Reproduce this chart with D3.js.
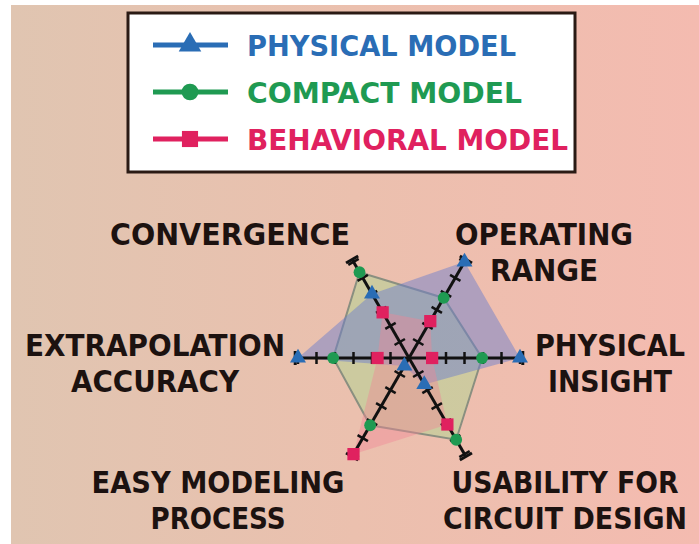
<!DOCTYPE html>
<html>
<head>
<meta charset="utf-8">
<script src="https://cdn.jsdelivr.net/npm/d3@7"></script>
<style>
  html, body { margin: 0; padding: 0; background: #ffffff; }
  svg { display: block; }
</style>
</head>
<body>
<div id="chart"></div>
<script>
// Axes, clockwise from the right (0 deg)
const axisNames = ["PHYSICAL INSIGHT", "USABILITY FOR CIRCUIT DESIGN", "EASY MODELING PROCESS",
                   "EXTRAPOLATION ACCURACY", "CONVERGENCE", "OPERATING RANGE"];
const axisTicks = [1, 2, 3, 4, 5, 6];

// Series values (0..6) in the same axis order
const physicalModel = [6, 1.65, 0.5, 6, 4.0, 6];
const compactModel = [3.95, 5.1, 4.2, 4.1, 5.35, 3.75];
const behavioralModel = [1.25, 4.15, 6, 1.7, 2.85, 2.3];

const seriesNames = ["PHYSICAL MODEL", "COMPACT MODEL", "BEHAVIORAL MODEL"];

const width = 699, height = 544;
const cx = 409, cy = 358;

const svg = d3.select("#chart").append("svg")
  .attr("width", width)
  .attr("height", height);

// background gradient
const defs = svg.append("defs");
const grad = defs.append("linearGradient").attr("id", "bg").attr("x1", "0%").attr("x2", "100%").attr("y1", "0%").attr("y2", "0%");
grad.append("stop").attr("offset", "0%").attr("stop-color", "#e0c5b1");
grad.append("stop").attr("offset", "50%").attr("stop-color", "#ebc0ae");
grad.append("stop").attr("offset", "100%").attr("stop-color", "#f4bbb0");

svg.append("rect").attr("x", 11).attr("y", 5).attr("width", width - 11).attr("height", height - 5)
  .attr("fill", "url(#bg)");

const r = d3.scaleLinear().domain([0, 6]).range([0, 111]);
const angle = d3.scalePoint().domain(axisNames).range([0, 300]);

function pt(name, v) {
  const a = angle(name) * Math.PI / 180;
  return [cx + r(v) * Math.cos(a), cy + r(v) * Math.sin(a)];
}

const series = [
  { name: seriesNames[0], values: physicalModel, color: "#2a6db5", fill: "#6f80cc", opacity: 0.5, shape: d3.symbolTriangle, stroke: "none" },
  { name: seriesNames[1], values: compactModel, color: "#1f9a52", fill: "#a6d88e", opacity: 0.45, shape: d3.symbolCircle, stroke: "#8a8f80" },
  { name: seriesNames[2], values: behavioralModel, color: "#e0215f", fill: "#f08596", opacity: 0.42, shape: d3.symbolSquare, stroke: "none" }
];
// areas: compact underneath, then physical, then behavioral
const areaOrder = [series[1], series[0], series[2]];

const line = d3.line().curve(d3.curveLinearClosed);

// filled areas
svg.append("g").selectAll("path")
  .data(areaOrder)
  .join("path")
  .attr("d", s => line(axisNames.map((n, i) => pt(n, s.values[i]))))
  .attr("fill", s => s.fill)
  .attr("fill-opacity", s => s.opacity)
  .attr("stroke", s => s.stroke)
  .attr("stroke-width", 2);

// axes
const axesG = svg.append("g");
axisNames.forEach(n => {
  const a = angle(n) * Math.PI / 180;
  const [x1, y1] = pt(n, 0);
  const [x2, y2] = pt(n, 6.1);
  axesG.append("line").attr("x1", x1).attr("y1", y1).attr("x2", x2).attr("y2", y2)
    .attr("stroke", "#111").attr("stroke-width", 3);
  const px = -Math.sin(a), py = Math.cos(a);
  axisTicks.forEach(t => {
    const [tx, ty] = pt(n, t);
    axesG.append("line")
      .attr("x1", tx - px * 6).attr("y1", ty - py * 6)
      .attr("x2", tx + px * 6).attr("y2", ty + py * 6)
      .attr("stroke", "#111").attr("stroke-width", 2.5);
  });
  const [ex, ey] = pt(n, 6.15);
  axesG.append("line")
    .attr("x1", ex - px * 7).attr("y1", ey - py * 7)
    .attr("x2", ex + px * 7).attr("y2", ey + py * 7)
    .attr("stroke", "#111").attr("stroke-width", 3);
});

// markers
series.forEach(s => {
  svg.append("g").selectAll("path")
    .data(s.values)
    .join("path")
    .attr("transform", (v, i) => `translate(${pt(axisNames[i], v)})`)
    .attr("d", d3.symbol().type(s.shape).size(s.shape === d3.symbolSquare ? 150 : 110))
    .attr("fill", s.color);
});

// axis labels
const labelFont = "'DejaVu Sans Condensed', 'DejaVu Sans', sans-serif";
const labels = [
  { lines: ["CONVERGENCE"], x: 230, y: 245, w: [240] },
  { lines: ["OPERATING", "RANGE"], x: 544, y: 245, w: [178, 108] },
  { lines: ["EXTRAPOLATION", "ACCURACY"], x: 155, y: 356, w: [260, 168] },
  { lines: ["PHYSICAL", "INSIGHT"], x: 610, y: 356, w: [150, 124] },
  { lines: ["EASY MODELING", "PROCESS"], x: 218, y: 493, w: [253, 135] },
  { lines: ["USABILITY FOR", "CIRCUIT DESIGN"], x: 565, y: 493, w: [227, 244] }
];
labels.forEach(l => {
  l.lines.forEach((t, i) => {
    svg.append("text")
      .attr("x", l.x).attr("y", l.y + i * 36)
      .attr("text-anchor", "middle")
      .attr("font-family", labelFont)
      .attr("font-weight", "bold")
      .attr("font-size", 31)
      .attr("fill", "#1c1210")
      .attr("textLength", l.w[i])
      .attr("lengthAdjust", "spacingAndGlyphs")
      .text(t);
  });
});

// legend
const legend = svg.append("g");
legend.append("rect").attr("x", 128).attr("y", 13).attr("width", 447).attr("height", 159)
  .attr("fill", "#ffffff").attr("stroke", "#2a1a14").attr("stroke-width", 3);
const legendW = [269, 275, 321];
series.forEach((s, i) => {
  const y = 45 + i * 47;
  legend.append("line").attr("x1", 153).attr("x2", 228).attr("y1", y).attr("y2", y)
    .attr("stroke", s.color).attr("stroke-width", 5);
  legend.append("path")
    .attr("transform", `translate(190,${y})`)
    .attr("d", d3.symbol().type(s.shape).size(s.shape === d3.symbolSquare ? 260 : 220))
    .attr("fill", s.color);
  legend.append("text")
    .attr("x", 247).attr("y", y + 11)
    .attr("font-family", labelFont)
    .attr("font-weight", "bold")
    .attr("font-size", 28)
    .attr("fill", s.color)
    .attr("textLength", legendW[i])
    .attr("lengthAdjust", "spacingAndGlyphs")
    .text(s.name);
});
</script>
</body>
</html>
